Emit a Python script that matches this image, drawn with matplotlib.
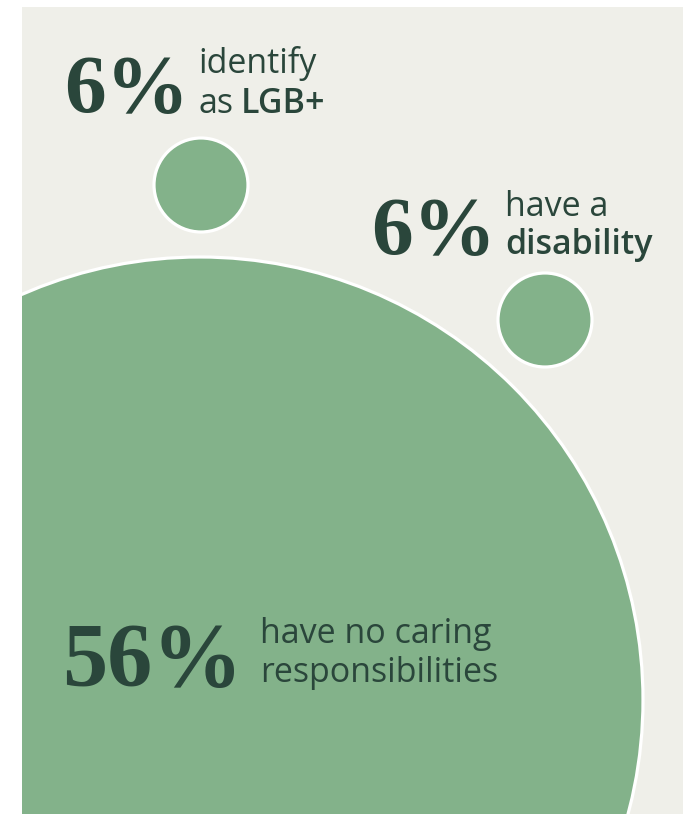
import matplotlib
matplotlib.use("Agg")
import matplotlib.pyplot as plt
from matplotlib.patches import Circle, Rectangle

# ---- data ----
percents = [6, 6, 56]
pct_labels = [f"{p}%" for p in percents]
line1 = ["identify", "have a", "have no caring"]
line2_regular = ["as", "", "responsibilities"]
line2_bold = ["LGB+", "disability", ""]

# ---- layout (pixels) ----
W, H = 688, 814
circle_centers = [(201, 185), (545, 320), (200, 700)]
circle_radii = [47, 47, 443]
pct_pos = [(64, 112), (371, 254), (62, 686)]
pct_size = [60, 60, 65]
text_x = [198, 505, 260]
line1_y = [73, 216, 643]
line2_y = [113, 254, 682]
bold_x_offset = [43, 0, 0]
BODY_FONT = "Open Sans"
BODY_SIZE = 24.5

BG = "#efefe9"
GREEN = "#83b28a"
DARK = "#2a463b"

fig = plt.figure(figsize=(W / 100, H / 100), dpi=100)
ax = fig.add_axes([0, 0, 1, 1])
ax.set_xlim(0, W)
ax.set_ylim(H, 0)
ax.axis("off")

panel = Rectangle((22, 7), 661, H - 7, facecolor=BG, edgecolor="none", zorder=0)
ax.add_patch(panel)

for (cx, cy), r in zip(circle_centers, circle_radii):
    c = Circle((cx, cy), r, facecolor=GREEN, edgecolor="white", linewidth=2.3, zorder=2)
    ax.add_patch(c)
    c.set_clip_path(panel)

for i in range(3):
    px, py = pct_pos[i]
    ax.text(px, py, pct_labels[i], fontsize=pct_size[i], fontweight="bold",
            family="Liberation Serif", color=DARK, ha="left", va="baseline", zorder=5)
    ax.text(text_x[i], line1_y[i], line1[i], fontsize=BODY_SIZE, family=BODY_FONT,
            color=DARK, ha="left", va="baseline", zorder=5)
    if line2_regular[i]:
        ax.text(text_x[i], line2_y[i], line2_regular[i], fontsize=BODY_SIZE,
                family=BODY_FONT, color=DARK, ha="left", va="baseline", zorder=5)
    if line2_bold[i]:
        ax.text(text_x[i] + bold_x_offset[i], line2_y[i], line2_bold[i],
                fontsize=BODY_SIZE, family=BODY_FONT, fontweight="semibold",
                color=DARK, ha="left", va="baseline", zorder=5)

fig.savefig("out.png", dpi=100, facecolor="white")
